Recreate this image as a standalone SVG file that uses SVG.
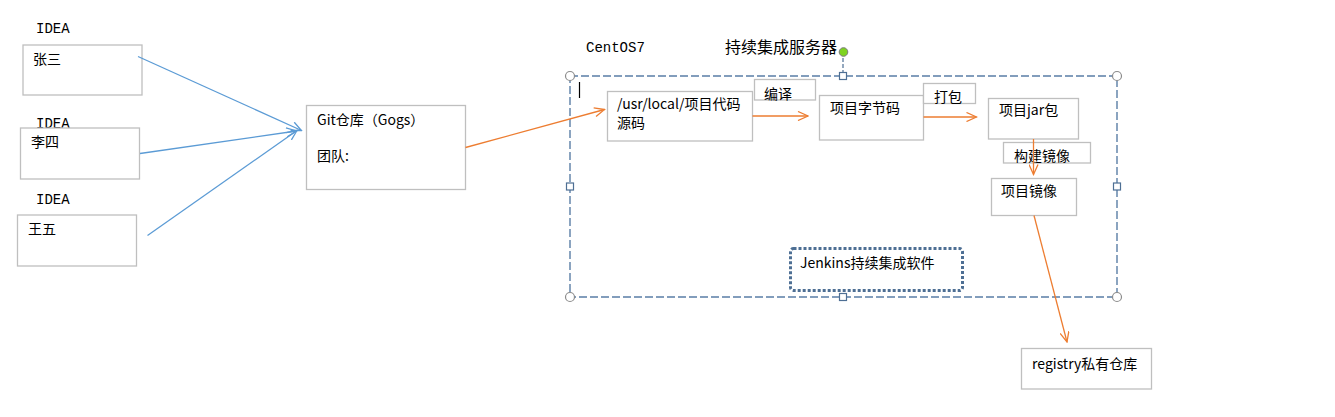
<svg xmlns="http://www.w3.org/2000/svg" width="1335" height="417" viewBox="0 0 1335 417">
<style>
.box{fill:#fff;stroke:#bfbfbf;stroke-width:1.3}
.t{font-family:"Noto Sans CJK SC","Noto Sans",sans-serif;font-size:14px;fill:#000}
.m{font-family:"Liberation Mono",monospace;font-size:14px;fill:#000}
.big{font-family:"Noto Sans CJK SC",sans-serif;font-size:16px;fill:#000}
.blue{stroke:#5b9bd5;stroke-width:1.3;fill:none}
.orange{stroke:#ed7d31;stroke-width:1.3;fill:none}
.handle-c{fill:#fff;stroke:#8c8c8c;stroke-width:1.2}
.handle-s{fill:#fff;stroke:#4e6f94;stroke-width:1.2}
</style>
<defs>
<marker id="ab" markerUnits="userSpaceOnUse" markerWidth="12" markerHeight="10" refX="11" refY="5" orient="auto"><path d="M1,0.5 L11,5 L1,9.5" fill="none" stroke="#5b9bd5" stroke-width="1.3"/></marker>
<marker id="ao" markerUnits="userSpaceOnUse" markerWidth="12" markerHeight="10" refX="11" refY="5" orient="auto"><path d="M1,0.5 L11,5 L1,9.5" fill="none" stroke="#ed7d31" stroke-width="1.3"/></marker>
</defs>
<rect width="1335" height="417" fill="#fff"/>

<g id="server">
<rect x="570" y="76" width="547" height="221" fill="none" stroke="#5a7ea6" stroke-width="1.4" stroke-dasharray="8,3"/>
<line x1="843" y1="52" x2="843" y2="76" stroke="#4e6f94" stroke-width="1.2" stroke-dasharray="4,2"/>
<circle cx="843.5" cy="52" r="4.3" fill="#7ed321" stroke="#7a7a7a" stroke-width="1"/>
<circle class="handle-c" cx="570" cy="76" r="4.5"/>
<circle class="handle-c" cx="1117" cy="76" r="4.5"/>
<circle class="handle-c" cx="570" cy="297" r="4.5"/>
<circle class="handle-c" cx="1117" cy="297" r="4.5"/>
<rect class="handle-s" x="839.5" y="72.5" width="7" height="7"/>
<rect class="handle-s" x="839.5" y="293.5" width="7" height="7"/>
<rect class="handle-s" x="566.5" y="183" width="7" height="7"/>
<rect class="handle-s" x="1113.5" y="183" width="7" height="7"/>
<line x1="579.5" y1="82" x2="579.5" y2="98" stroke="#000" stroke-width="1.2"/>
<text class="m" x="586" y="52">CentOS7</text>
<text class="big" x="725" y="53">持续集成服务器</text>
</g>

<g id="idea1"><text class="m" x="36" y="33">IDEA</text></g>
<g id="zhangsan"><rect class="box" x="23" y="45" width="119" height="50"/><text class="t" x="33" y="64">张三</text></g>
<g id="idea2"><text class="m" x="36" y="128">IDEA</text></g>
<g id="lisi"><rect class="box" x="20.5" y="128" width="119" height="51"/><text class="t" x="31" y="147">李四</text></g>
<g id="idea3"><text class="m" x="36" y="204">IDEA</text></g>
<g id="wangwu"><rect class="box" x="17.5" y="215" width="119" height="51"/><text class="t" x="28" y="234">王五</text></g>

<g id="git"><rect class="box" x="306.5" y="105.5" width="159" height="84"/>
<text class="t" x="317" y="125">Git仓库（Gogs）</text>
<text class="t" x="317" y="161">团队:</text></g>

<g id="src"><rect class="box" x="607.5" y="91.5" width="145" height="49.5"/>
<text class="t" x="617" y="109">/usr/local/项目代码</text>
<text class="t" x="617" y="128">源码</text></g>
<g id="compile"><rect class="box" x="754.5" y="79.5" width="61" height="20.5"/><text class="t" x="764" y="99">编译</text></g>
<g id="bytecode"><rect class="box" x="819.5" y="95.5" width="104" height="44.5"/><text class="t" x="830" y="113">项目字节码</text></g>
<g id="package"><rect class="box" x="923.5" y="83.5" width="52" height="20"/><text class="t" x="934" y="102">打包</text></g>
<g id="jar"><rect class="box" x="988.5" y="98.5" width="90" height="40.5"/><text class="t" x="999" y="115">项目jar包</text></g>
<g id="buildimg"><rect class="box" x="1003.5" y="142.5" width="87" height="20.5"/><text class="t" x="1014" y="161">构建镜像</text></g>
<g id="image"><rect class="box" x="991.5" y="178.5" width="85" height="37"/><text class="t" x="1001" y="196">项目镜像</text></g>
<g id="jenkins"><rect x="790.5" y="248.5" width="172" height="42" rx="3" fill="none" stroke="#4e6f94" stroke-width="3" stroke-dasharray="3,2"/>
<text class="t" x="800" y="268">Jenkins持续集成软件</text></g>
<g id="registry"><rect class="box" x="1021.5" y="348.5" width="130" height="40.5"/><text class="t" x="1032" y="369">registry私有仓库</text></g>

<g id="connectors">
<line class="blue" x1="138" y1="56.5" x2="301.5" y2="130.5" marker-end="url(#ab)"/>
<line class="blue" x1="140" y1="153.5" x2="296.5" y2="131" marker-end="url(#ab)"/>
<line class="blue" x1="147.5" y1="235.5" x2="297" y2="130.5" marker-end="url(#ab)"/>
<line class="orange" x1="465.5" y1="147.5" x2="604.5" y2="109.5" marker-end="url(#ao)"/>
<line class="orange" x1="752.5" y1="116" x2="808" y2="116" marker-end="url(#ao)"/>
<line class="orange" x1="923.5" y1="117" x2="976.5" y2="117" marker-end="url(#ao)"/>
<line class="orange" x1="1033.5" y1="139" x2="1033.5" y2="174.5" marker-end="url(#ao)"/>
<line class="orange" x1="1034" y1="215.5" x2="1067" y2="342" marker-end="url(#ao)"/>
</g>
</svg>
